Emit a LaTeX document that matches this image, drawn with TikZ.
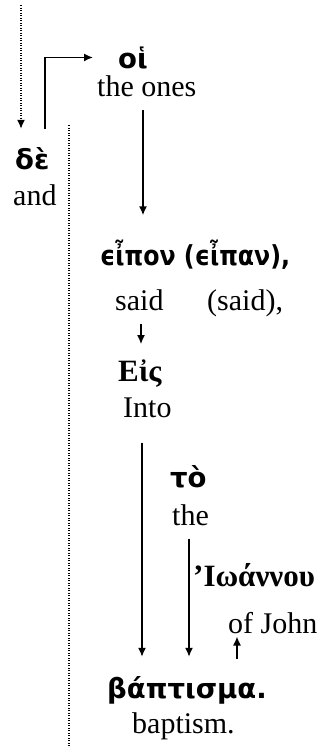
\documentclass[tikz,border=0pt]{standalone}
\usepackage{fontspec}
\setmainfont{Liberation Serif}
\newfontfamily\grkfont{DejaVu Sans}
\newfontfamily\grknarrow{DejaVu Sans}[FakeStretch=0.86]
\newfontfamily\grkserif{Liberation Serif}
\usepackage{tikz}
\usetikzlibrary{arrows.meta}

\begin{document}
\begin{tikzpicture}[x=1pt,y=-1pt,
greek/.style={inner sep=0pt,anchor=base west,font=\fontsize{27.5}{30}\selectfont\grkfont\bfseries},
greekSerif/.style={inner sep=0pt,anchor=base west,font=\fontsize{31}{33}\selectfont\grkserif\bfseries},
gloss/.style={inner sep=0pt,anchor=base west,font=\fontsize{30}{32}\selectfont},
link/.style={-{Latex[length=9pt,width=8pt]},line width=1.5pt},
trace/.style={line width=1.5pt,dash pattern=on 1.3pt off 1.2pt}]
\useasboundingbox (0,0) rectangle (334,748);

\node[greek] (de) at (15,169) {δὲ};
\node[gloss] (and) at (13,205) {and};
\node[greek] (oi) at (118,68) {οἱ};
\node[gloss] (ones) at (97,96) {the ones};

\node[greek,font=\fontsize{27.5}{30}\selectfont\grknarrow\bfseries] (eipon) at (100,265) {ϵἶπον (ϵἶπαν),};
\node[gloss] (said) at (115,310) {said};
\node[gloss] (said2) at (207,310) {(said),};
\node[greekSerif] (eis) at (118,381) {Εἰς};
\node[gloss] (into) at (123,417) {Into};

\node[greek] (to) at (170,487) {τὸ};
\node[gloss] (the) at (172,525) {the};
\node[greekSerif] (ioannou) at (193,586) {’Ιωάννου};
\node[gloss] (john) at (228,633) {of John};

\node[greek] (bapt) at (107,698) {βάπτισμα.};
\node[gloss] (baptism) at (132,733) {baptism.};

\coordinate (inTop) at (21,5);
\coordinate (sepTop) at (69,125);
\coordinate (sepEnd) at (69,748);

\draw[trace,-{Latex[length=9pt,width=8pt]},shorten >=18pt] (inTop) -- (inTop |- de.north);
\draw[trace] (sepTop) -- (sepEnd);
\draw[link,shorten <=18pt,shorten >=25pt] (de.north -| 45,0) |- (oi.west);
\draw[link,shorten <=14pt,shorten >=24pt] (ones.south -| 143,0) -- (eipon.north -| 143,0);
\draw[link,shorten <=13pt,shorten >=15pt] (said.south -| 141,0) -- (eis.north -| 141,0);
\draw[link,shorten <=25pt,shorten >=19pt] (into.south -| 142,0) -- (bapt.north -| 142,0);
\draw[link,shorten <=13pt,shorten >=19pt] (the.south -| 189,0) -- (bapt.north -| 189,0);
\draw[link,shorten <=17pt,shorten >=3pt] (bapt.north -| 237,0) -- (john.south -| 237,0);
\end{tikzpicture}
\end{document}
